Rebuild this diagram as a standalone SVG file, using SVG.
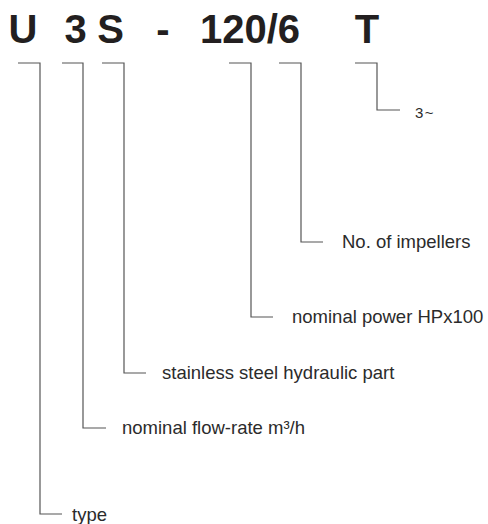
<svg xmlns="http://www.w3.org/2000/svg" width="488" height="524" viewBox="0 0 488 524">
<style>
.code{font-family:"Liberation Sans",Arial,sans-serif;font-weight:bold;font-size:40px;fill:#231f20;text-anchor:middle}
.lbl{font-family:"Liberation Sans",Arial,sans-serif;font-size:18.5px;fill:#2b2b2b}
.ln{fill:none;stroke:#555;stroke-width:1.2}
</style>
<rect width="488" height="524" fill="#fff"/>
<g id="code">
<text class="code" x="23" y="43">U</text>
<text class="code" x="75.5" y="43">3</text>
<text class="code" x="110.5" y="43">S</text>
<text class="code" x="163" y="43">-</text>
<text class="code" x="250" y="43">120/6</text>
<text class="code" x="367" y="43">T</text>
</g>
<g id="connectors">
<path class="ln" d="M18,63 H40 V514 H62"/>
<path class="ln" d="M62,63 H83 V428 H106"/>
<path class="ln" d="M102,63 H124 V373 H146"/>
<path class="ln" d="M229,63 H251 V317 H273"/>
<path class="ln" d="M279,63 H301 V242 H323"/>
<path class="ln" d="M355,63 H377 V110 H400"/>
</g>
<g id="type"><text class="lbl" x="72" y="521">type</text></g>
<g id="flow"><text class="lbl" x="122" y="434">nominal flow-rate m³/h</text></g>
<g id="stainless"><text class="lbl" x="162" y="379">stainless steel hydraulic part</text></g>
<g id="power"><text class="lbl" x="292" y="323">nominal power HPx100</text></g>
<g id="impellers"><text class="lbl" x="342" y="248">No. of impellers</text></g>
<g id="phase"><text class="lbl" x="415" y="118" style="font-size:15px;letter-spacing:1.5px">3~</text></g>
</svg>
